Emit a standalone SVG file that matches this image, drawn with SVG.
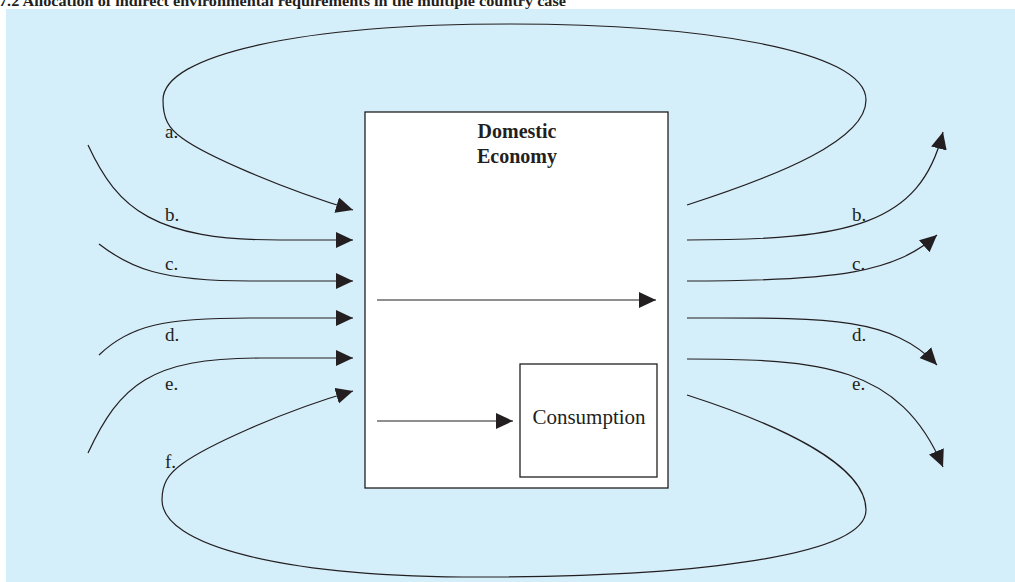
<svg xmlns="http://www.w3.org/2000/svg" width="1015" height="582" viewBox="0 0 1015 582">
  <style>
    .flow { fill: none; stroke: #231f20; stroke-width: 1.2; }
    .arrowed { marker-end: url(#head); }
    .box { fill: #ffffff; stroke: #231f20; stroke-width: 1.3; }
    .lbl { font-family: "Liberation Serif", "Times New Roman", serif; font-size: 19px; fill: #231f20; }
    .big { font-size: 21px; text-anchor: middle; }
    .title { font-family: "Liberation Serif", "Times New Roman", serif; font-size: 15px; font-weight: bold; fill: #231f20; }
    .head { font-family: "Liberation Serif", "Times New Roman", serif; font-size: 20px; font-weight: bold; fill: #231f20; text-anchor: middle; }
  </style>
  <defs>
    <marker id="head" markerUnits="userSpaceOnUse" markerWidth="18" markerHeight="18" refX="17" refY="8" orient="auto">
      <path d="M0,0 L17,8 L0,16 Z" fill="#231f20"/>
    </marker>
  </defs>

  <!-- page background and tinted panel -->
  <rect x="0" y="0" width="1015" height="582" fill="#ffffff"/>
  <rect x="6" y="9" width="1009" height="573" fill="#d4eefa"/>
  <text class="title" x="-1" y="6" textLength="567" lengthAdjust="spacingAndGlyphs">7.2  Allocation of indirect environmental requirements in the multiple country case</text>

  <!-- domestic economy -->
  <g id="domestic-economy">
    <rect class="box" x="365" y="112" width="303" height="376"/>
    <text class="head" x="517" y="138">Domestic</text>
    <text class="head" x="517" y="163">Economy</text>
  </g>

  <!-- consumption -->
  <g id="consumption">
    <rect class="box" x="520" y="364" width="137" height="113"/>
    <text class="lbl big" x="589" y="424">Consumption</text>
  </g>

  <!-- flows -->
  <g id="connectors">
    <!-- a: upper loop from exports back into the domestic economy -->
    <path class="flow arrowed" d="M687,205 C780,175 866,140 866,100 C866,50 700,24 510,24 C300,24 163,55 163,100 C163,118 168,128 182,138 C205,155 280,188 353,210"/>
    <!-- f: lower loop -->
    <path class="flow arrowed" d="M687,395 C780,425 866,465 866,510 C866,555 700,577 480,577 C280,577 162,545 162,500 C162,484 168,474 182,464 C205,447 280,412 353,391"/>

    <!-- imports -->
    <path class="flow arrowed" d="M88,145 C118,210 155,240 280,240 L353,240"/>
    <path class="flow arrowed" d="M99,244 C130,268 160,281 250,281 L353,281"/>
    <path class="flow arrowed" d="M99,355 C130,325 165,318 250,318 L353,318"/>
    <path class="flow arrowed" d="M88,453 C120,385 150,358 260,358 L353,358"/>

    <!-- exports -->
    <path class="flow arrowed" d="M687,240 C850,240 920,225 943,132"/>
    <path class="flow arrowed" d="M687,281 C840,281 895,272 937,235"/>
    <path class="flow arrowed" d="M687,318 C820,318 890,315 937,365"/>
    <path class="flow arrowed" d="M687,359 C820,359 900,365 943,467"/>

    <!-- internal flows -->
    <path class="flow arrowed" d="M377,300 L656,300"/>
    <path class="flow arrowed" d="M377,421 L513,421"/>
  </g>

  <!-- flow labels -->
  <g id="labels">
    <text class="lbl" x="165" y="138">a.</text>
    <text class="lbl" x="165" y="221">b.</text>
    <text class="lbl" x="165" y="270">c.</text>
    <text class="lbl" x="165" y="341">d.</text>
    <text class="lbl" x="165" y="390">e.</text>
    <text class="lbl" x="165" y="468">f.</text>
    <text class="lbl" x="852" y="221">b.</text>
    <text class="lbl" x="852" y="270">c.</text>
    <text class="lbl" x="852" y="341">d.</text>
    <text class="lbl" x="852" y="390">e.</text>
  </g>
</svg>
